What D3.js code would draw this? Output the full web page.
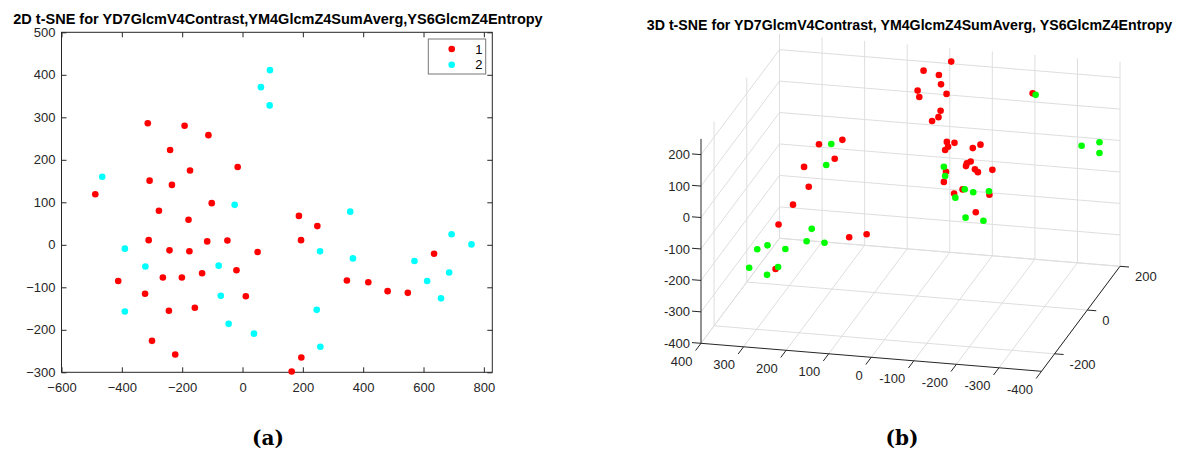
<!DOCTYPE html>
<html><head><meta charset="utf-8">
<script src="https://cdn.jsdelivr.net/npm/d3@7"></script>
<style>
body{margin:0;background:#fff}
svg{display:block}
text{font-family:"Liberation Sans",Arial,Helvetica,sans-serif}
</style>
</head><body>
<svg id="c" width="1180" height="450"></svg>
<script>
// ---------- data: 2D t-SNE ----------
const title2d = "2D t-SNE for YD7GlcmV4Contrast,YM4GlcmZ4SumAverg,YS6GlcmZ4Entropy";
const groupLabels = ["1", "2"];
const cat1X = [-314,-192,-113,-240,-16,-174,-308,-234,-488,-277,-102,-179,-311,-242,-176,-117,-50,50,-20,-134,-264,-201,-412,-323,11,-244,-158,-300,-223,163,187,248,194,635,346,417,481,548,195];
const cat1Y = [286,280,258,223,183,175,151,141,119,80,98,59,11,-13,-15,8,10,-17,-60,-67,-77,-77,-85,-115,-121,-155,-148,-226,-258,-298,68,44,11,-21,-84,-88,-109,-113,-265];
const cat2X = [91,61,90,-465,-26,-390,-322,-79,-72,-390,-46,38,357,257,366,693,759,570,685,612,658,246,258];
const cat2Y = [411,371,328,160,94,-9,-51,-49,-120,-157,-186,-209,78,-15,-32,25,1,-38,-65,-85,-126,-153,-240];
const xTicks2d = [-600,-400,-200,0,200,400,600,800];
const yTicks2d = [-300,-200,-100,0,100,200,300,400,500];

// ---------- data: 3D t-SNE ----------
const title3d = "3D t-SNE for YD7GlcmV4Contrast, YM4GlcmZ4SumAverg, YS6GlcmZ4Entropy";
const red3dX = [-15,50,14,9,64,60,-4,10,15,30,-214,-70,-88,-73,-66,-149,-131,-126,-117,-115,-68,-136,-143,-177,-63,-107,-87,-170,-138,137,192,155,227,216,253,287,121,80,294];
const red3dY = [170,170,170,170,170,170,170,170,170,170,150,0,0,0,0,0,0,0,0,0,0,0,0,0,0,0,0,0,0,-100,-100,-100,-100,-100,-100,-100,-100,-100,-100];
const red3dZ = [229,193,183,154,128,108,125,70,49,35,164,98,97,83,72,98,85,42,35,26,3,18,10,21,-30,-49,-64,-59,-118,151,131,89,55,-7,-68,-135,-157,-143,-277];
const green3dX = [-221,-329,-371,-371,-63,-66,-112,-132,-90,-169,-114,-156,163,175,209,221,179,313,337,271,356,288,314];
const green3dY = [150,150,150,150,0,0,0,0,0,0,0,0,-100,-100,-100,-100,-100,-100,-100,-100,-100,-100,-100];
const green3dZ = [160,10,26,-8,18,-11,-48,-55,-77,-48,-138,-143,135,67,-140,-181,-181,-204,-219,-211,-280,-270,-298];
const xTicks3d = [400,300,200,100,0,-100,-200,-300,-400];
const yTicks3d = [-200,0,200];
const zTicks3d = [-400,-300,-200,-100,0,100,200];
const captions = ["(a)", "(b)"];

const svg = d3.select("#c");
const AX = "#262626";

// ================= 2D panel =================
const x2 = d3.scaleLinear().domain([-600, 828]).range([61.5, 492.3]);
const y2 = d3.scaleLinear().domain([-300, 500]).range([372.3, 32.3]);
const g2 = svg.append("g");

function styleAxis(sel, showText){
  sel.select(".domain").remove();
  sel.selectAll("line").attr("stroke", AX).attr("stroke-width", 1);
  sel.selectAll("text").attr("fill", AX).attr("font-size", 13);
  if(!showText) sel.selectAll("text").remove();
}
g2.append("g").attr("transform", "translate(0,372.3)")
  .call(d3.axisBottom(x2).tickValues(xTicks2d).tickSize(-5).tickPadding(10).tickFormat(d3.format("d")))
  .call(s => styleAxis(s, true));
g2.append("g").attr("transform", "translate(0,32.3)")
  .call(d3.axisTop(x2).tickValues(xTicks2d).tickSize(-5))
  .call(s => styleAxis(s, false));
g2.append("g").attr("transform", "translate(61.5,0)")
  .call(d3.axisLeft(y2).tickValues(yTicks2d).tickSize(-5).tickPadding(6).tickFormat(d3.format("d")))
  .call(s => styleAxis(s, true));
g2.append("g").attr("transform", "translate(492.3,0)")
  .call(d3.axisRight(y2).tickValues(yTicks2d).tickSize(-5))
  .call(s => styleAxis(s, false));
g2.append("rect")
  .attr("x", x2(-600)).attr("y", y2(500))
  .attr("width", x2(828) - x2(-600)).attr("height", y2(-300) - y2(500))
  .attr("fill", "none").attr("stroke", AX).attr("stroke-width", 1);

const pts1 = cat1X.map((v,i)=>({x:v, y:cat1Y[i]}));
const pts2 = cat2X.map((v,i)=>({x:v, y:cat2Y[i]}));
g2.append("g").selectAll("circle").data(pts1).join("circle")
  .attr("cx", d=>x2(d.x)).attr("cy", d=>y2(d.y)).attr("r", 3.3).attr("fill", "#ff0000");
g2.append("g").selectAll("circle").data(pts2).join("circle")
  .attr("cx", d=>x2(d.x)).attr("cy", d=>y2(d.y)).attr("r", 3.3).attr("fill", "#00ffff");

// legend
const lg = g2.append("g");
lg.append("rect").attr("x", 428.3).attr("y", 39).attr("width", 57.4).attr("height", 35)
  .attr("fill", "#fff").attr("stroke", "#777").attr("stroke-width", 1);
[["#ff0000", 49], ["#00ffff", 64.7]].forEach((c, i) => {
  lg.append("circle").attr("cx", 451.7).attr("cy", c[1]).attr("r", 3.3).attr("fill", c[0]);
  lg.append("text").attr("x", 475.3).attr("y", c[1] + 4.6).attr("font-size", 13).attr("fill", "#000").text(groupLabels[i]);
});

svg.append("text").attr("x", 278).attr("y", 23.5).attr("text-anchor", "middle")
  .attr("font-size", 14.5).attr("font-weight", "bold").attr("fill", "#000").text(title2d);

// ================= 3D panel =================
const XMAX = 400, XMIN = -400, YMIN = -280, YMAX = 200, ZMIN = -400, ZMAX = 250;
const fx = d3.scaleLinear().domain([XMAX, XMIN]).range([0, 1]);
const fy = d3.scaleLinear().domain([YMIN, YMAX]).range([0, 1]);
const fz = d3.scaleLinear().domain([ZMIN, ZMAX]).range([0, 1]);
const O = [701, 343.3], VX = [340.5, 28], VY = [78.5, -105], VZ = [0, -204.4];
function proj(x, y, z){
  const a = fx(x), b = fy(y), c = fz(z);
  return [O[0] + a*VX[0] + b*VY[0] + c*VZ[0], O[1] + a*VX[1] + b*VY[1] + c*VZ[1]];
}
const g3 = svg.append("g");
const grid = g3.append("g");
function seg(g, p, q, col, w){
  g.append("line").attr("x1", p[0]).attr("y1", p[1]).attr("x2", q[0]).attr("y2", q[1])
    .attr("stroke", col).attr("stroke-width", w || 1);
}
const GC = "#dedede";
// back wall (y = YMAX)
xTicks3d.forEach(t => seg(grid, proj(t, YMAX, ZMIN), proj(t, YMAX, ZMAX), GC));
zTicks3d.forEach(t => seg(grid, proj(XMAX, YMAX, t), proj(XMIN, YMAX, t), GC));
// side wall (x = XMAX)
yTicks3d.forEach(t => seg(grid, proj(XMAX, t, ZMIN), proj(XMAX, t, ZMAX), GC));
zTicks3d.forEach(t => seg(grid, proj(XMAX, YMIN, t), proj(XMAX, YMAX, t), GC));
// floor (z = ZMIN)
xTicks3d.forEach(t => seg(grid, proj(t, YMIN, ZMIN), proj(t, YMAX, ZMIN), GC));
yTicks3d.forEach(t => seg(grid, proj(XMAX, t, ZMIN), proj(XMIN, t, ZMIN), GC));

// axes lines
const axg = g3.append("g");
seg(axg, proj(XMAX, YMIN, ZMIN), proj(XMAX, YMIN, ZMAX), AX);
seg(axg, proj(XMAX, YMIN, ZMIN), proj(XMIN, YMIN, ZMIN), AX);
seg(axg, proj(XMIN, YMIN, ZMIN), proj(XMIN, YMAX, ZMIN), AX);
// z ticks
zTicks3d.forEach(t => {
  const p = proj(XMAX, YMIN, t);
  seg(axg, p, [p[0] - 9, p[1] - 0.7], AX);
  axg.append("text").attr("x", 690).attr("y", p[1] + 4.6).attr("text-anchor", "end")
    .attr("font-size", 13).attr("fill", AX).text(t);
});
// x ticks
xTicks3d.forEach(t => {
  const p = proj(t, YMIN, ZMIN);
  seg(axg, p, [p[0] - 5.4, p[1] + 7.2], AX);
  axg.append("text").attr("x", p[0] - 8.5).attr("y", p[1] + 22.5).attr("text-anchor", "end")
    .attr("font-size", 13).attr("fill", AX).text(t);
});
// y ticks
yTicks3d.forEach(t => {
  const p = proj(XMIN, t, ZMIN);
  seg(axg, p, [p[0] + 9, p[1] + 0.7], AX);
  axg.append("text").attr("x", p[0] + 15).attr("y", p[1] + 15).attr("text-anchor", "start")
    .attr("font-size", 13).attr("fill", AX).text(t);
});

const r3 = red3dX.map((v,i)=>proj(v, red3dY[i], red3dZ[i]));
const gr3 = green3dX.map((v,i)=>proj(v, green3dY[i], green3dZ[i]));
g3.append("g").selectAll("circle").data(r3).join("circle")
  .attr("cx", d=>d[0]).attr("cy", d=>d[1]).attr("r", 3.3).attr("fill", "#ff0000");
g3.append("g").selectAll("circle").data(gr3).join("circle")
  .attr("cx", d=>d[0]).attr("cy", d=>d[1]).attr("r", 3.3).attr("fill", "#00ff00");

svg.append("text").attr("x", 909.5).attr("y", 30).attr("text-anchor", "middle")
  .attr("font-size", 14.2).attr("font-weight", "bold").attr("fill", "#000").text(title3d);

// captions
[[268, captions[0]], [902, captions[1]]].forEach(c => {
  svg.append("text").attr("x", c[0]).attr("y", 445).attr("text-anchor", "middle")
    .style("font-family", "'DejaVu Serif', 'Liberation Serif', serif").attr("font-weight", "bold")
    .attr("font-size", 20).attr("fill", "#000").text(c[1]);
});
</script>
</body></html>
